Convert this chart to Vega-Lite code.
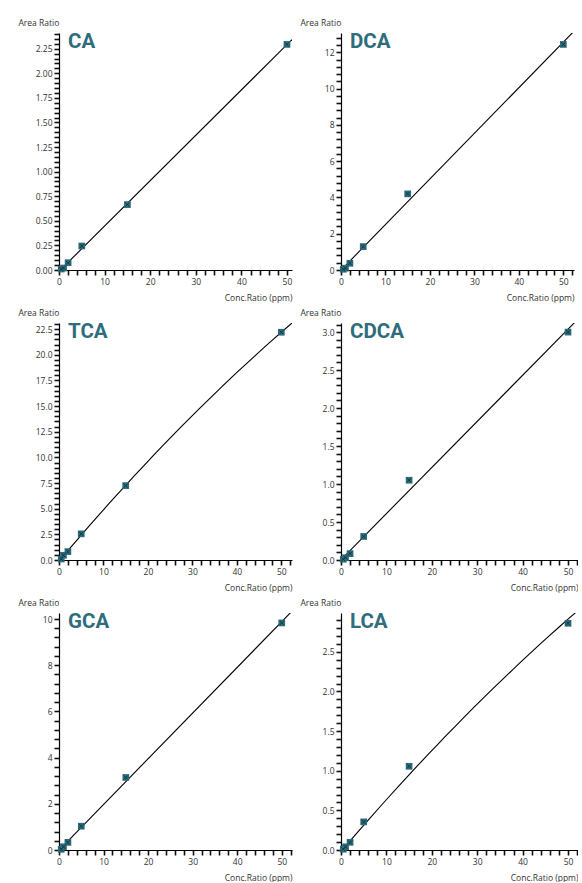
{
  "$schema": "https://vega.github.io/schema/vega-lite/v6.json",
  "background": "white",
  "padding": {"left": 18, "top": 18, "right": 0, "bottom": 0},
  "columns": 2,
  "align": "each",
  "spacing": {"row": 6, "column": 8},
  "datasets": {
    "cal": [
      {"compound": "CA", "conc": 0.5, "ratio": 0.01},
      {"compound": "CA", "conc": 1, "ratio": 0.02},
      {"compound": "CA", "conc": 2, "ratio": 0.074},
      {"compound": "CA", "conc": 5, "ratio": 0.244},
      {"compound": "CA", "conc": 15, "ratio": 0.665},
      {"compound": "CA", "conc": 50, "ratio": 2.294},
      {"compound": "DCA", "conc": 0.5, "ratio": 0.04},
      {"compound": "DCA", "conc": 1, "ratio": 0.1},
      {"compound": "DCA", "conc": 2, "ratio": 0.37},
      {"compound": "DCA", "conc": 5, "ratio": 1.29},
      {"compound": "DCA", "conc": 15, "ratio": 4.2},
      {"compound": "DCA", "conc": 50, "ratio": 12.44},
      {"compound": "TCA", "conc": 0.5, "ratio": 0.1},
      {"compound": "TCA", "conc": 1, "ratio": 0.46},
      {"compound": "TCA", "conc": 2, "ratio": 0.82},
      {"compound": "TCA", "conc": 5, "ratio": 2.55},
      {"compound": "TCA", "conc": 15, "ratio": 7.25},
      {"compound": "TCA", "conc": 50, "ratio": 22.2},
      {"compound": "CDCA", "conc": 0.5, "ratio": 0.01},
      {"compound": "CDCA", "conc": 1, "ratio": 0.03},
      {"compound": "CDCA", "conc": 2, "ratio": 0.084},
      {"compound": "CDCA", "conc": 5, "ratio": 0.31},
      {"compound": "CDCA", "conc": 15, "ratio": 1.05},
      {"compound": "CDCA", "conc": 50, "ratio": 3.0},
      {"compound": "GCA", "conc": 0.5, "ratio": 0.03},
      {"compound": "GCA", "conc": 1, "ratio": 0.14},
      {"compound": "GCA", "conc": 2, "ratio": 0.33},
      {"compound": "GCA", "conc": 5, "ratio": 1.03},
      {"compound": "GCA", "conc": 15, "ratio": 3.14},
      {"compound": "GCA", "conc": 50, "ratio": 9.83},
      {"compound": "LCA", "conc": 0.5, "ratio": 0.01},
      {"compound": "LCA", "conc": 1, "ratio": 0.04},
      {"compound": "LCA", "conc": 2, "ratio": 0.097},
      {"compound": "LCA", "conc": 5, "ratio": 0.355},
      {"compound": "LCA", "conc": 15, "ratio": 1.056},
      {"compound": "LCA", "conc": 50, "ratio": 2.86}
    ],
    "lcafit": [
      {"conc": 0.6, "ratio": 0.0},
      {"conc": 7.3, "ratio": 0.5},
      {"conc": 15.9, "ratio": 1.0},
      {"conc": 24.5, "ratio": 1.5},
      {"conc": 32.6, "ratio": 2.0},
      {"conc": 42.1, "ratio": 2.5},
      {"conc": 51.5, "ratio": 2.99}
    ]
  },
  "config": {
    "font": "Open Sans",
    "view": {"stroke": null},
    "axis": {
      "labelFont": "Open Sans", "labelFontSize": 8.5, "labelColor": "#333",
      "titleFont": "Open Sans", "titleFontSize": 8.5, "titleFontWeight": "normal", "titleColor": "#333",
      "domainColor": "black", "domainWidth": 1.2, "tickColor": "#111", "tickWidth": 1.6, "tickSize": 5,
      "grid": false, "labelOverlap": false, "labelFlush": false, "labelPadding": 2
    },
    "axisX": {"titleAnchor": "end", "titleAlign": "right", "titleBaseline": "middle", "titleY": 27},
    "axisY": {"titleAngle": 0, "titleX": -41, "titleY": -10.5, "titleAlign": "left", "titleBaseline": "middle"},
    "title": {"anchor": "start", "frame": "group", "font": "Roboto", "fontSize": 20.5, "fontWeight": "bold", "color": "#2f6d7c", "offset": -34, "dx": 9, "baseline": "alphabetic"}
  },
  "concat": [
    {
      "width": 233, "height": 237, "title": "CA",
      "data": {"name": "cal"},
      "transform": [{"filter": "datum.compound === 'CA'"}],
      "encoding": {
        "x": {"field": "conc", "type": "quantitative", "scale": {"domain": [0, 51.1], "nice": false, "zero": false},
          "axis": {"title": "Conc.Ratio (ppm)", "values": [0,2,4,6,8,10,12,14,16,18,20,22,24,26,28,30,32,34,36,38,40,42,44,46,48,50],
            "labelExpr": "datum.value % 10 === 0 ? datum.label : ''"}},
        "y": {"field": "ratio", "type": "quantitative", "scale": {"domain": [0, 2.41], "nice": false, "zero": false},
          "axis": {"title": "Area Ratio", "values": [0,0.05,0.1,0.15,0.2,0.25,0.3,0.35,0.4,0.45,0.5,0.55,0.6,0.65,0.7,0.75,0.8,0.85,0.9,0.95,1,1.05,1.1,1.15,1.2,1.25,1.3,1.35,1.4,1.45,1.5,1.55,1.6,1.65,1.7,1.75,1.8,1.85,1.9,1.95,2,2.05,2.1,2.15,2.2,2.25,2.3,2.35,2.4],
            "labelExpr": "abs(datum.value/0.25 - round(datum.value/0.25)) < 0.001 ? format(datum.value, '.2f') : ''"}}
      },
      "layer": [
        {"transform": [{"regression": "ratio", "on": "conc", "method": "linear", "extent": [0.3, 51.1]}],
         "mark": {"type": "line", "color": "#000", "strokeWidth": 1.1, "clip": true}},
        {"mark": {"type": "point", "shape": "square", "filled": true, "color": "#2c6b7b", "opacity": 1, "size": 45}},
        {"mark": {"type": "point", "shape": "M-1,-1L1,1M1,-1L-1,1", "filled": false, "color": "#14323a", "opacity": 1, "size": 16, "strokeWidth": 0.9}}
      ]
    },
    {
      "width": 233, "height": 237, "title": "DCA",
      "data": {"name": "cal"},
      "transform": [{"filter": "datum.compound === 'DCA'"}],
      "encoding": {
        "x": {"field": "conc", "type": "quantitative", "scale": {"domain": [0, 52.4], "nice": false, "zero": false},
          "axis": {"title": "Conc.Ratio (ppm)", "values": [0,2,4,6,8,10,12,14,16,18,20,22,24,26,28,30,32,34,36,38,40,42,44,46,48,50,52],
            "labelExpr": "datum.value % 10 === 0 ? datum.label : ''"}},
        "y": {"field": "ratio", "type": "quantitative", "scale": {"domain": [0, 13.07], "nice": false, "zero": false},
          "axis": {"title": "Area Ratio", "values": [0,0.4,0.8,1.2,1.6,2,2.4,2.8,3.2,3.6,4,4.4,4.8,5.2,5.6,6,6.4,6.8,7.2,7.6,8,8.4,8.8,9.2,9.6,10,10.4,10.8,11.2,11.6,12,12.4,12.8],
            "labelExpr": "abs(datum.value/2 - round(datum.value/2)) < 0.001 ? format(datum.value, 'd') : ''"}}
      },
      "layer": [
        {"transform": [{"regression": "ratio", "on": "conc", "method": "linear", "extent": [0.3, 52.4]}],
         "mark": {"type": "line", "color": "#000", "strokeWidth": 1.1, "clip": true}},
        {"mark": {"type": "point", "shape": "square", "filled": true, "color": "#2c6b7b", "opacity": 1, "size": 45}},
        {"mark": {"type": "point", "shape": "M-1,-1L1,1M1,-1L-1,1", "filled": false, "color": "#14323a", "opacity": 1, "size": 16, "strokeWidth": 0.9}}
      ]
    },
    {
      "width": 233, "height": 237, "title": "TCA",
      "data": {"name": "cal"},
      "transform": [{"filter": "datum.compound === 'TCA'"}],
      "encoding": {
        "x": {"field": "conc", "type": "quantitative", "scale": {"domain": [0, 52.4], "nice": false, "zero": false},
          "axis": {"title": "Conc.Ratio (ppm)", "values": [0,2,4,6,8,10,12,14,16,18,20,22,24,26,28,30,32,34,36,38,40,42,44,46,48,50,52],
            "labelExpr": "datum.value % 10 === 0 ? datum.label : ''"}},
        "y": {"field": "ratio", "type": "quantitative", "scale": {"domain": [0, 23.1], "nice": false, "zero": false},
          "axis": {"title": "Area Ratio", "values": [0,0.5,1,1.5,2,2.5,3,3.5,4,4.5,5,5.5,6,6.5,7,7.5,8,8.5,9,9.5,10,10.5,11,11.5,12,12.5,13,13.5,14,14.5,15,15.5,16,16.5,17,17.5,18,18.5,19,19.5,20,20.5,21,21.5,22,22.5,23],
            "labelExpr": "abs(datum.value/2.5 - round(datum.value/2.5)) < 0.001 ? format(datum.value, '.1f') : ''"}}
      },
      "layer": [
        {"transform": [{"regression": "ratio", "on": "conc", "method": "poly", "order": 2, "extent": [0.3, 52.4]}],
         "mark": {"type": "line", "color": "#000", "strokeWidth": 1.1, "clip": true}},
        {"mark": {"type": "point", "shape": "square", "filled": true, "color": "#2c6b7b", "opacity": 1, "size": 45}},
        {"mark": {"type": "point", "shape": "M-1,-1L1,1M1,-1L-1,1", "filled": false, "color": "#14323a", "opacity": 1, "size": 16, "strokeWidth": 0.9}}
      ]
    },
    {
      "width": 237, "height": 237, "title": "CDCA",
      "data": {"name": "cal"},
      "transform": [{"filter": "datum.compound === 'CDCA'"}],
      "encoding": {
        "x": {"field": "conc", "type": "quantitative", "scale": {"domain": [0, 52.2], "nice": false, "zero": false},
          "axis": {"title": "Conc.Ratio (ppm)", "values": [0,2,4,6,8,10,12,14,16,18,20,22,24,26,28,30,32,34,36,38,40,42,44,46,48,50,52],
            "labelExpr": "datum.value % 10 === 0 ? datum.label : ''"}},
        "y": {"field": "ratio", "type": "quantitative", "scale": {"domain": [0, 3.12], "nice": false, "zero": false},
          "axis": {"title": "Area Ratio", "values": [0,0.1,0.2,0.3,0.4,0.5,0.6,0.7,0.8,0.9,1,1.1,1.2,1.3,1.4,1.5,1.6,1.7,1.8,1.9,2,2.1,2.2,2.3,2.4,2.5,2.6,2.7,2.8,2.9,3,3.1],
            "labelExpr": "abs(datum.value/0.5 - round(datum.value/0.5)) < 0.001 ? format(datum.value, '.1f') : ''"}}
      },
      "layer": [
        {"transform": [{"regression": "ratio", "on": "conc", "method": "linear", "extent": [0.3, 52.2]}],
         "mark": {"type": "line", "color": "#000", "strokeWidth": 1.1, "clip": true}},
        {"mark": {"type": "point", "shape": "square", "filled": true, "color": "#2c6b7b", "opacity": 1, "size": 45}},
        {"mark": {"type": "point", "shape": "M-1,-1L1,1M1,-1L-1,1", "filled": false, "color": "#14323a", "opacity": 1, "size": 16, "strokeWidth": 0.9}}
      ]
    },
    {
      "width": 233, "height": 237, "title": "GCA",
      "data": {"name": "cal"},
      "transform": [{"filter": "datum.compound === 'GCA'"}],
      "encoding": {
        "x": {"field": "conc", "type": "quantitative", "scale": {"domain": [0, 52.3], "nice": false, "zero": false},
          "axis": {"title": "Conc.Ratio (ppm)", "values": [0,2,4,6,8,10,12,14,16,18,20,22,24,26,28,30,32,34,36,38,40,42,44,46,48,50,52],
            "labelExpr": "datum.value % 10 === 0 ? datum.label : ''"}},
        "y": {"field": "ratio", "type": "quantitative", "scale": {"domain": [0, 10.26], "nice": false, "zero": false},
          "axis": {"title": "Area Ratio", "values": [0,0.4,0.8,1.2,1.6,2,2.4,2.8,3.2,3.6,4,4.4,4.8,5.2,5.6,6,6.4,6.8,7.2,7.6,8,8.4,8.8,9.2,9.6,10],
            "labelExpr": "abs(datum.value/2 - round(datum.value/2)) < 0.001 ? format(datum.value, 'd') : ''"}}
      },
      "layer": [
        {"transform": [{"regression": "ratio", "on": "conc", "method": "linear", "extent": [0.3, 52.3]}],
         "mark": {"type": "line", "color": "#000", "strokeWidth": 1.1, "clip": true}},
        {"mark": {"type": "point", "shape": "square", "filled": true, "color": "#2c6b7b", "opacity": 1, "size": 45}},
        {"mark": {"type": "point", "shape": "M-1,-1L1,1M1,-1L-1,1", "filled": false, "color": "#14323a", "opacity": 1, "size": 16, "strokeWidth": 0.9}}
      ]
    },
    {
      "width": 237, "height": 237, "title": "LCA",
      "encoding": {
        "x": {"field": "conc", "type": "quantitative", "scale": {"domain": [0, 52.2], "nice": false, "zero": false},
          "axis": {"title": "Conc.Ratio (ppm)", "values": [0,2,4,6,8,10,12,14,16,18,20,22,24,26,28,30,32,34,36,38,40,42,44,46,48,50,52],
            "labelExpr": "datum.value % 10 === 0 ? datum.label : ''"}},
        "y": {"field": "ratio", "type": "quantitative", "scale": {"domain": [0, 2.99], "nice": false, "zero": false},
          "axis": {"title": "Area Ratio", "values": [0,0.1,0.2,0.3,0.4,0.5,0.6,0.7,0.8,0.9,1,1.1,1.2,1.3,1.4,1.5,1.6,1.7,1.8,1.9,2,2.1,2.2,2.3,2.4,2.5,2.6,2.7,2.8,2.9],
            "labelExpr": "abs(datum.value/0.5 - round(datum.value/0.5)) < 0.001 ? format(datum.value, '.1f') : ''"}}
      },
      "layer": [
        {"data": {"name": "lcafit"},
         "transform": [{"regression": "ratio", "on": "conc", "method": "poly", "order": 2, "extent": [0.3, 52.2]}],
         "mark": {"type": "line", "color": "#000", "strokeWidth": 1.1, "clip": true}},
        {"data": {"name": "cal"}, "transform": [{"filter": "datum.compound === 'LCA'"}],
         "mark": {"type": "point", "shape": "square", "filled": true, "color": "#2c6b7b", "opacity": 1, "size": 45}},
        {"data": {"name": "cal"}, "transform": [{"filter": "datum.compound === 'LCA'"}],
         "mark": {"type": "point", "shape": "M-1,-1L1,1M1,-1L-1,1", "filled": false, "color": "#14323a", "opacity": 1, "size": 16, "strokeWidth": 0.9}}
      ]
    }
  ]
}
